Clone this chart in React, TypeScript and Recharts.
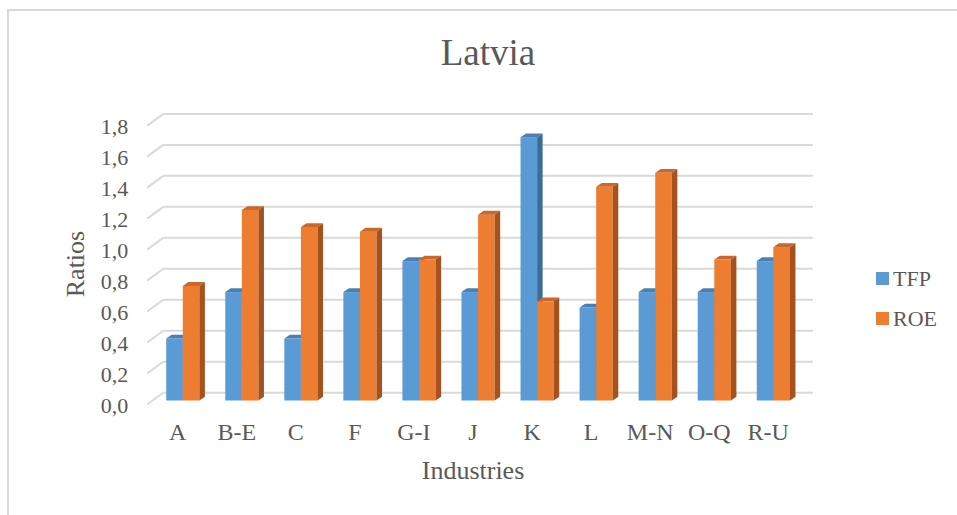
import { BarChart, Bar, XAxis, YAxis, CartesianGrid, Legend, Customized } from "recharts";

const industries = ["A", "B-E", "C", "F", "G-I", "J", "K", "L", "M-N", "O-Q", "R-U"];
const tfp = [0.4, 0.7, 0.4, 0.7, 0.9, 0.7, 1.7, 0.6, 0.7, 0.7, 0.9];
const roe = [0.74, 1.23, 1.12, 1.09, 0.91, 1.2, 0.64, 1.38, 1.47, 0.91, 0.99];
const yTicks = [0, 0.2, 0.4, 0.6, 0.8, 1.0, 1.2, 1.4, 1.6, 1.8];
const seriesOrder = ["TFP", "ROE"];

const data = industries.map((name, i) => ({ name, TFP: tfp[i], ROE: roe[i] }));

const FONT = "Liberation Serif, Times New Roman, serif";
const TEXT = "#595959";
const GRID = "#d9d9d9";

// depth of the box the bars sit in
const BACK_DX = 10;
const BACK_DY = -7.8;
const FRONT_DX = -6;
const FRONT_DY = 4;
// depth of one bar
const BAR_DX = 5.5;
const BAR_DY = 3.8;

function Box3D(props: any) {
  const { x, y, width, height, face, top, side } = props;
  if (width == null || height == null) return null;
  return (
    <g>
      <rect x={x} y={y} width={width} height={height} fill={face} />
      <polygon
        points={`${x},${y} ${x + width},${y} ${x + width + BAR_DX},${y - BAR_DY} ${x + BAR_DX},${y - BAR_DY}`}
        fill={top}
      />
      <polygon
        points={`${x + width},${y} ${x + width + BAR_DX},${y - BAR_DY} ${x + width + BAR_DX},${y + height - BAR_DY} ${x + width},${y + height}`}
        fill={side}
      />
    </g>
  );
}

function gridLine(p: any) {
  const { x1, x2, y1 } = p;
  return (
    <g key={`grid-${y1}`}>
      <line x1={x1 + FRONT_DX} y1={y1 + FRONT_DY} x2={x1 + BACK_DX} y2={y1 + BACK_DY} stroke={GRID} strokeWidth={2} />
      <line x1={x1 + BACK_DX} y1={y1 + BACK_DY} x2={x2 + BACK_DX} y2={y1 + BACK_DY} stroke={GRID} strokeWidth={2} />
    </g>
  );
}

function YTick(props: any) {
  const { x, y, payload } = props;
  return (
    <text x={x} y={y + 5} dy="0.35em" textAnchor="end" fontFamily={FONT} fontSize={22} fill={TEXT}>
      {payload.value.toFixed(1).replace(".", ",")}
    </text>
  );
}

function XTick(props: any) {
  const { x, y, payload } = props;
  return (
    <text x={x - 5} y={y + 31} textAnchor="middle" fontFamily={FONT} fontSize={24} fill={TEXT}>
      {payload.value}
    </text>
  );
}

function Titles() {
  return (
    <g fontFamily={FONT} fill={TEXT}>
      <text x={488} y={65} textAnchor="middle" fontSize={37}>
        Latvia
      </text>
      <text x={473} y={479} textAnchor="middle" fontSize={26}>
        Industries
      </text>
      <text x={84} y={264} textAnchor="middle" fontSize={26} transform="rotate(-90 84 264)">
        Ratios
      </text>
    </g>
  );
}

function LegendBox(props: any) {
  const items = [...(props.payload || [])].sort(
    (a: any, b: any) => seriesOrder.indexOf(a.value) - seriesOrder.indexOf(b.value)
  );
  return (
    <div style={{ fontFamily: FONT, color: TEXT, fontSize: 22 }}>
      {items.map((item: any) => (
        <div key={item.value} style={{ display: "flex", alignItems: "center", height: 40 }}>
          <span style={{ width: 13, height: 13, background: item.color, marginRight: 4, display: "inline-block" }} />
          <span>{item.value}</span>
        </div>
      ))}
    </div>
  );
}

export default function App() {
  return (
    <div style={{ position: "absolute", left: 0, top: 0, width: 957, height: 515, overflow: "hidden", background: "#fff" }}>
      <div
        style={{
          position: "absolute",
          left: 7,
          top: 9,
          width: 980,
          height: 540,
          border: `2px solid ${GRID}`,
          boxSizing: "border-box",
        }}
      />
      <BarChart
        width={957}
        height={515}
        data={data}
        margin={{ top: 121.7, right: 154.2, bottom: 74.5, left: 93.2 }}
        barGap={0}
        barSize={16.6}
      >
        <CartesianGrid vertical={false} horizontal={gridLine} stroke={GRID} />
        <XAxis dataKey="name" height={40} axisLine={false} tickLine={false} tick={<XTick />} interval={0} />
        <YAxis
          width={60}
          domain={[0, 1.8]}
          ticks={yTicks}
          axisLine={false}
          tickLine={false}
          tickMargin={19}
          tick={<YTick />}
          interval={0}
        />
        <Bar
          dataKey="TFP"
          fill="#5B9BD5"
          isAnimationActive={false}
          shape={(p: any) => <Box3D {...p} face="#5B9BD5" top="#4A80B4" side="#3E6C97" />}
        />
        <Bar
          dataKey="ROE"
          fill="#ED7D31"
          isAnimationActive={false}
          shape={(p: any) => <Box3D {...p} face="#ED7D31" top="#C9682A" side="#A5521E" />}
        />
        <Legend
          layout="horizontal"
          align="center"
          verticalAlign="middle"
          wrapperStyle={{ left: 876, top: 258.5, width: 80, height: 80 }}
          content={<LegendBox />}
        />
        <Customized component={Titles} />
      </BarChart>
    </div>
  );
}
